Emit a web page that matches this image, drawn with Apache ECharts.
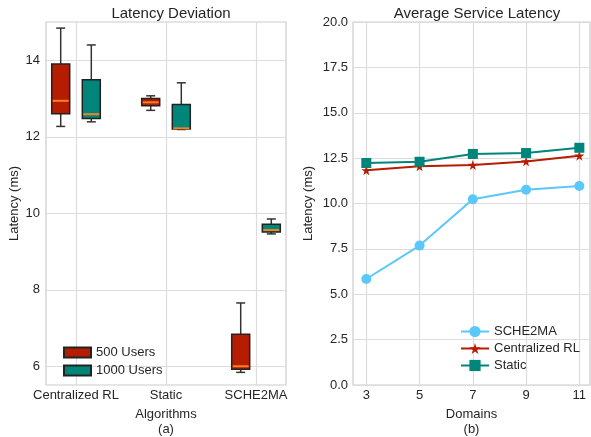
<!DOCTYPE html>
<html>
<head>
<meta charset="utf-8">
<script src="https://cdn.jsdelivr.net/npm/echarts@6/dist/echarts.min.js"></script>
<style>html,body{margin:0;padding:0;background:#fff}#c{width:591px;height:437px}</style>
</head>
<body>
<div id="c"></div>
<script>
// ---- data ----
const categories = ['Centralized RL', 'Static', 'SCHE2MA'];
// [lower whisker, Q1, median, Q3, upper whisker]
const users500 = [
  [12.27, 12.60, 12.94, 13.90, 14.84],
  [12.69, 12.81, 12.90, 13.00, 13.07],
  [5.84, 5.92, 6.00, 6.84, 7.655]
];
const users1000 = [
  [12.39, 12.48, 12.59, 13.49, 14.40],
  [12.19, 12.20, 12.22, 12.84, 13.41],
  [9.46, 9.51, 9.56, 9.715, 9.85]
];
const leftYTicks = [6, 8, 10, 12, 14];
const domains = [3, 5, 7, 9, 11];
const sche2ma = [5.84, 7.68, 10.23, 10.76, 10.96];
const centralizedRL = [11.83, 12.05, 12.12, 12.32, 12.63];
const staticLat = [12.23, 12.30, 12.73, 12.78, 13.07];

// ---- style ----
const RED = '#b51c00', TEAL = '#00857a', BLUE = '#5ac8fa', LRED = '#b51c00', LTEAL = '#00857a';
const MEDIAN = '#f58220';
const FONT = "'Liberation Sans', Arial, sans-serif";
const TXT = '#262626';
const GRIDC = '#dcdcdc', FRAMEC = '#cccccc';
const OFFSET = 0.17, BOXW = 0.2, CAPW = 0.1;

const chart = echarts.init(document.getElementById('c'), null, {renderer: 'canvas'});

function boxData(arr, off) {
  return arr.map((d, i) => [i + 1 + off, d[0], d[1], d[2], d[3], d[4]]);
}

function renderBox(params, api) {
  const x = api.value(0);
  const lo = api.value(1), q1 = api.value(2), med = api.value(3), q3 = api.value(4), hi = api.value(5);
  const pLo = api.coord([x, lo]), pHi = api.coord([x, hi]);
  const bl = api.coord([x - BOXW / 2, q1]), tr = api.coord([x + BOXW / 2, q3]);
  const ml = api.coord([x - BOXW / 2, med]), mr = api.coord([x + BOXW / 2, med]);
  const cl = api.coord([x - CAPW / 2, lo]), cr = api.coord([x + CAPW / 2, lo]);
  const hl = api.coord([x - CAPW / 2, hi]), hr = api.coord([x + CAPW / 2, hi]);
  const color = api.visual('color');
  const wStyle = {stroke: '#333', lineWidth: 1.5};
  return {
    type: 'group',
    children: [
      {type: 'line', shape: {x1: pLo[0], y1: pLo[1], x2: pHi[0], y2: pHi[1]}, style: wStyle},
      {type: 'line', shape: {x1: cl[0], y1: cl[1], x2: cr[0], y2: cr[1]}, style: wStyle},
      {type: 'line', shape: {x1: hl[0], y1: hl[1], x2: hr[0], y2: hr[1]}, style: wStyle},
      {type: 'rect', shape: {x: bl[0], y: tr[1], width: tr[0] - bl[0], height: bl[1] - tr[1]},
        style: {fill: color, stroke: '#222', lineWidth: 1.5}},
      {type: 'line', shape: {x1: ml[0] + 1, y1: ml[1], x2: mr[0] - 1, y2: mr[1]}, style: {stroke: MEDIAN, lineWidth: 2}}
    ]
  };
}

const axisLabelStyle = {color: TXT, fontFamily: FONT, fontSize: 13};
const STAR = 'path://M50,0 L61,35 L98,35 L68,57 L79,91 L50,70 L21,91 L32,57 L2,35 L39,35 Z';

const option = {
  animation: false,
  backgroundColor: '#fff',
  title: [
    {text: 'Latency Deviation', left: 166, top: 1, textAlign: 'center',
      textStyle: {fontFamily: FONT, fontSize: 15, fontWeight: 'normal', color: TXT}},
    {text: 'Average Service Latency', left: 472, top: 1, textAlign: 'center',
      textStyle: {fontFamily: FONT, fontSize: 15, fontWeight: 'normal', color: TXT}}
  ],
  legend: [
    {data: ['500 Users', '1000 Users'], orient: 'vertical', left: 58, top: 341, itemWidth: 27, itemHeight: 10,
      itemGap: 5, icon: 'rect', textStyle: {fontFamily: FONT, fontSize: 13, color: TXT}},
    {data: ['SCHE2MA', 'Centralized RL', 'Static'], orient: 'vertical', left: 455, top: 320, itemWidth: 28, itemHeight: 14,
      itemGap: 4, textStyle: {fontFamily: FONT, fontSize: 13, color: TXT}}
  ],
  grid: [
    {left: 46, top: 22, width: 240, height: 363, show: true, borderColor: FRAMEC, borderWidth: 1.2,
      containLabel: false, outerBoundsMode: 'none'},
    {left: 353, top: 22, width: 237, height: 363, show: true, borderColor: FRAMEC, borderWidth: 1.2,
      containLabel: false, outerBoundsMode: 'none'}
  ],
  xAxis: [
    {type: 'value', gridIndex: 0, min: 2 / 3, max: 10 / 3,
      name: 'Algorithms\n(a)', nameLocation: 'middle', nameGap: 20,
      nameTextStyle: {fontFamily: FONT, fontSize: 13, color: TXT, lineHeight: 15, verticalAlign: 'top'},
      axisLine: {show: false}, axisTick: {show: false, customValues: [1, 2, 3]},
      axisLabel: Object.assign({customValues: [1, 2, 3], margin: 4, formatter: v => categories[Math.round(v) - 1] || ''}, axisLabelStyle),
      splitLine: {show: true, lineStyle: {color: GRIDC, width: 1.2}}},
    {type: 'value', gridIndex: 1, min: 2.5, max: 11.4,
      name: 'Domains\n(b)', nameLocation: 'middle', nameGap: 20,
      nameTextStyle: {fontFamily: FONT, fontSize: 13, color: TXT, lineHeight: 15, verticalAlign: 'top'},
      axisLine: {show: false}, axisTick: {show: false, customValues: domains},
      axisLabel: Object.assign({customValues: domains, margin: 4}, axisLabelStyle),
      splitLine: {show: true, lineStyle: {color: GRIDC, width: 1.2}}}
  ],
  yAxis: [
    {type: 'value', gridIndex: 0, min: 5.51, max: 15.0,
      name: 'Latency (ms)', nameLocation: 'middle', nameGap: 25,
      nameTextStyle: {fontFamily: FONT, fontSize: 13, color: TXT},
      axisLine: {show: false}, axisTick: {show: false, customValues: leftYTicks},
      axisLabel: Object.assign({customValues: leftYTicks, margin: 6}, axisLabelStyle),
      splitLine: {show: true, lineStyle: {color: GRIDC, width: 1.2}}},
    {type: 'value', gridIndex: 1, min: 0, max: 20, interval: 2.5,
      name: 'Latency (ms)', nameLocation: 'middle', nameGap: 38,
      nameTextStyle: {fontFamily: FONT, fontSize: 13, color: TXT},
      axisLine: {show: false}, axisTick: {show: false},
      axisLabel: Object.assign({margin: 5, formatter: v => v.toFixed(1)}, axisLabelStyle),
      splitLine: {show: true, lineStyle: {color: GRIDC, width: 1.2}}}
  ],
  series: [
    {name: '500 Users', type: 'custom', xAxisIndex: 0, yAxisIndex: 0, renderItem: renderBox,
      itemStyle: {color: RED, borderColor: '#222', borderWidth: 1.5},
      encode: {x: 0, y: [1, 2, 3, 4, 5]}, data: boxData(users500, -OFFSET)},
    {name: '1000 Users', type: 'custom', xAxisIndex: 0, yAxisIndex: 0, renderItem: renderBox,
      itemStyle: {color: TEAL, borderColor: '#222', borderWidth: 1.5},
      encode: {x: 0, y: [1, 2, 3, 4, 5]}, data: boxData(users1000, OFFSET)},
    {name: 'SCHE2MA', type: 'line', xAxisIndex: 1, yAxisIndex: 1, symbol: 'circle', symbolSize: 10,
      color: BLUE, lineStyle: {width: 2}, data: domains.map((d, i) => [d, sche2ma[i]])},
    {name: 'Centralized RL', type: 'line', xAxisIndex: 1, yAxisIndex: 1,
      symbol: STAR, symbolSize: 10,
      color: LRED, lineStyle: {width: 2}, data: domains.map((d, i) => [d, centralizedRL[i]])},
    {name: 'Static', type: 'line', xAxisIndex: 1, yAxisIndex: 1, symbol: 'rect', symbolSize: 10,
      color: LTEAL, lineStyle: {width: 2}, data: domains.map((d, i) => [d, staticLat[i]])}
  ]
};
chart.setOption(option);
</script>
</body>
</html>
